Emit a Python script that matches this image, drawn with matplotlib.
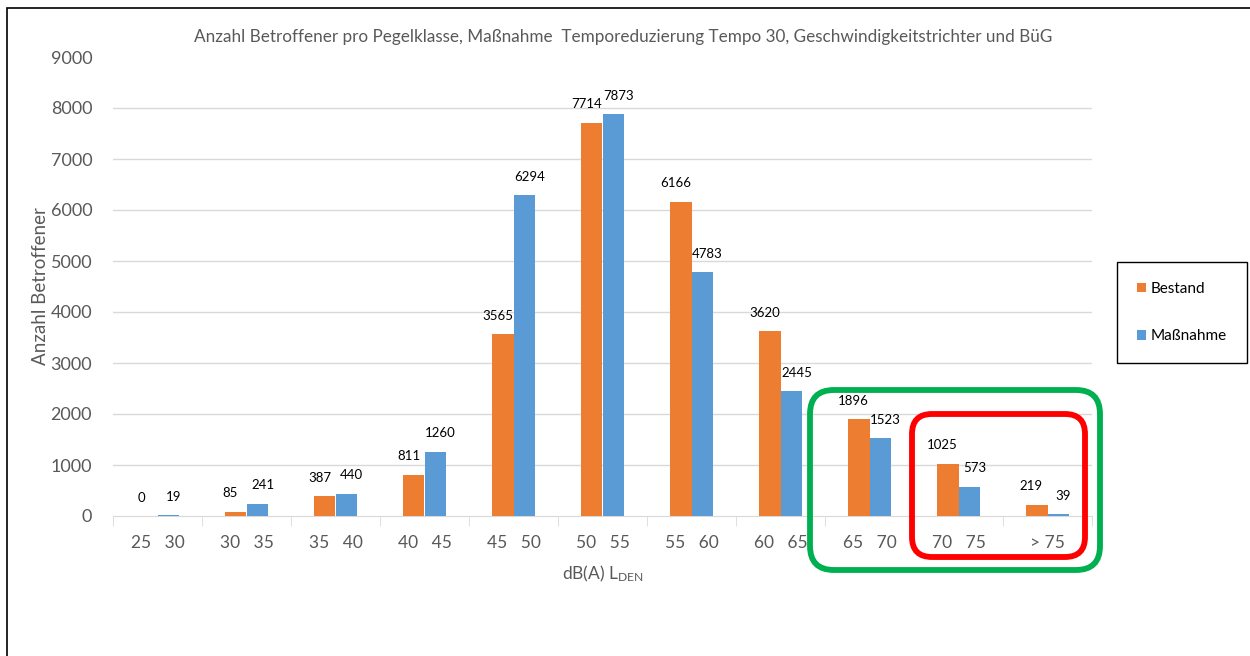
import numpy as np
import matplotlib.pyplot as plt
from matplotlib.patches import FancyBboxPatch, Rectangle
from matplotlib.transforms import IdentityTransform

plt.rcParams['font.family'] = ['Lato', 'DejaVu Sans']
plt.rcParams['mathtext.default'] = 'regular'

# Daten
klassen = ['25   30', '30   35', '35   40', '40   45', '45   50', '50   55',
           '55   60', '60   65', '65   70', '70   75', '> 75']
bestand = [0, 85, 387, 811, 3565, 7714, 6166, 3620, 1896, 1025, 219]
massnahme = [19, 241, 440, 1260, 6294, 7873, 4783, 2445, 1523, 573, 39]

c_best = '#ED7D31'
c_mass = '#5B9BD5'
grau = '#595959'

fig = plt.figure(figsize=(12.5, 6.56), dpi=100)
ax = fig.add_axes([113 / 1250, 1 - 516 / 656, (1092 - 113) / 1250, (516 - 57) / 656])

x = np.arange(len(klassen))
w = 0.236
b1 = ax.bar(x - w / 2, bestand, w, color=c_best, label='Bestand', zorder=3)
b2 = ax.bar(x + w / 2, massnahme, w, color=c_mass, label='Maßnahme', zorder=3)

for bars, dx in ((b1, -4), (b2, 4)):
    for r in bars:
        h = r.get_height()
        ax.annotate(f'{int(h)}', (r.get_x() + r.get_width() / 2, h),
                    xytext=(dx, 9), textcoords='offset points',
                    ha='center', va='bottom', fontsize=9.5, color='black')

ax.set_xlim(-0.5, len(klassen) - 0.5)
ax.set_ylim(0, 9000)
ax.set_yticks(np.arange(0, 9001, 1000))
ax.tick_params(axis='y', length=0, pad=15, labelsize=13, labelcolor=grau)
for yv in range(1000, 9000, 1000):
    ax.axhline(yv, color='#D9D9D9', lw=1, zorder=0)

ax.set_xticks(x)
ax.set_xticklabels(klassen)
ax.set_xticks(np.arange(-0.5, len(klassen)), minor=True)
ax.tick_params(axis='x', which='major', length=0, pad=14, labelsize=12.5, labelcolor=grau)
ax.tick_params(axis='x', which='minor', length=7, color='#D9D9D9', direction='out')

for s in ['top', 'right', 'left']:
    ax.spines[s].set_visible(False)
ax.spines['bottom'].set_color('#D9D9D9')

ax.set_ylabel('Anzahl Betroffener', fontsize=13.5, color=grau, labelpad=1)
ax.set_xlabel(r'dB(A) L$_{DEN}$', fontsize=12.5, color=grau, labelpad=9)

fig.text(623 / 1250, 1 - 37 / 656,
         'Anzahl Betroffener pro Pegelklasse, Maßnahme  Temporeduzierung Tempo 30, Geschwindigkeitstrichter und BüG',
         ha='center', va='center', fontsize=12.3, color=grau)

leg = fig.legend(handles=[b1, b2], loc='upper left',
                 bbox_to_anchor=(1117 / 1250, 1 - 262 / 656),
                 frameon=True, fancybox=False, edgecolor='black', framealpha=1,
                 fontsize=11, handlelength=0.6, handleheight=0.6, handletextpad=0.3,
                 labelspacing=2.2, borderpad=1.3, borderaxespad=0)
leg.get_frame().set_linewidth(1)

# Rahmen und Markierungen (Pixelkoordinaten)
H = 656
fig.patches.append(Rectangle((6.5, -50), 1400, H - 8 + 50, fill=False, ec='black', lw=1.2,
                             transform=IdentityTransform(), figure=fig))
fig.patches.append(FancyBboxPatch((810, H - 570), 1100 - 810, 570 - 390,
                                  boxstyle='round,pad=0,rounding_size=24', fill=False,
                                  ec='#00B050', lw=4.2, transform=IdentityTransform(), figure=fig))
fig.patches.append(FancyBboxPatch((912, H - 557), 1085 - 912, 557 - 414,
                                  boxstyle='round,pad=0,rounding_size=20', fill=False,
                                  ec='#FF0000', lw=4.2, transform=IdentityTransform(), figure=fig))

fig.savefig('out.png', dpi=100)
